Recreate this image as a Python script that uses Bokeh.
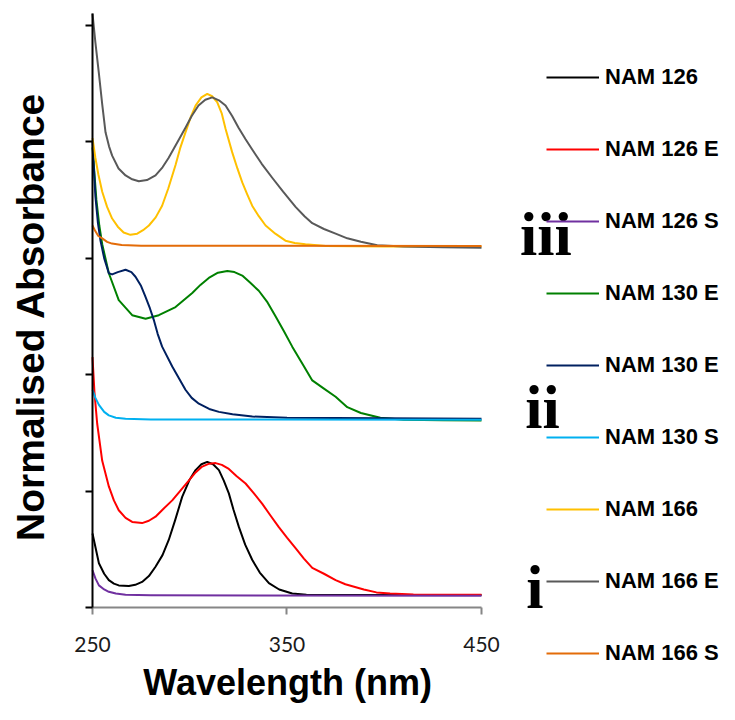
from bokeh.plotting import figure
from bokeh.models import FixedTicker, Legend, LegendItem, Label, Range1d
from bokeh.embed import file_html
from bokeh.resources import INLINE

# ---------------- data ----------------
x_ticks = [250, 350, 450]
y_ticks = [0, 1, 2, 3, 4, 5]

wl_nam126 = [250, 253.3, 256, 258.4, 261, 263.5, 268.7, 272, 275.5, 279, 282.4, 286, 289.2, 292.5,
             296.1, 300, 303, 306, 309, 312, 315, 317.5, 320.1, 322.5, 325.3, 328.5, 332.1, 336,
             340.7, 346, 352.7, 360, 380, 400, 450]
abs_nam126 = [0.635, 0.38, 0.29, 0.235, 0.205, 0.19, 0.185, 0.195, 0.22, 0.27, 0.35, 0.45, 0.58, 0.75,
              0.95, 1.10, 1.18, 1.23, 1.25, 1.23, 1.18, 1.09, 0.98, 0.84, 0.69, 0.54, 0.41, 0.30,
              0.21, 0.155, 0.12, 0.11, 0.107, 0.107, 0.107]

wl_nam126e = [250, 251, 252.4, 255, 258.4, 261, 263.5, 267, 270.4, 275.5, 279, 282.4, 286, 291, 295,
              299.5, 303, 306.4, 310, 313.3, 316.5, 320.1, 324, 328.7, 333, 337.3, 341.5, 345.8, 350,
              354.4, 358.7, 363, 369, 375, 380, 389.5, 396, 403, 415, 450]
abs_nam126e = [2.15, 1.85, 1.58, 1.26, 1.04, 0.92, 0.835, 0.77, 0.735, 0.725, 0.745, 0.78, 0.84, 0.92, 1.00,
               1.09, 1.16, 1.21, 1.235, 1.24, 1.225, 1.19, 1.13, 1.065, 0.98, 0.89, 0.79, 0.69, 0.60,
               0.51, 0.42, 0.34, 0.29, 0.235, 0.20, 0.155, 0.13, 0.12, 0.112, 0.11]

wl_nam126s = [250, 251.5, 253.3, 256, 258.4, 262, 267, 280, 450]
abs_nam126s = [0.32, 0.25, 0.19, 0.155, 0.135, 0.12, 0.11, 0.105, 0.102]

wl_nam130e_a = [250, 252, 253.5, 255, 258.4, 263.5, 270.4, 277.3, 284.1, 292.7, 301.3, 305.5, 309.8,
                314.5, 319.3, 323, 327, 331, 335.5, 340, 344.1, 348.5, 352.7, 358, 363, 369, 375, 381,
                388, 398, 410, 430, 450]
abs_nam130e_a = [3.95, 3.5, 3.28, 3.12, 2.87, 2.64, 2.51, 2.48, 2.51, 2.58, 2.70, 2.77, 2.83,
                 2.875, 2.89, 2.88, 2.85, 2.79, 2.72, 2.62, 2.50, 2.37, 2.24, 2.09, 1.95, 1.88, 1.81, 1.72,
                 1.67, 1.63, 1.612, 1.608, 1.605]

wl_nam130e_b = [250, 251.5, 252.8, 254.1, 256, 258.4, 260.1, 263, 267, 270, 272.1, 275, 277.2, 279.5,
                281.5, 283.5, 285.8, 291, 297.8, 301, 304.7, 310, 315, 322, 332.2, 350, 400, 450]
abs_nam130e_b = [4.0, 3.53, 3.3, 3.15, 3.0, 2.87, 2.86, 2.88, 2.90, 2.88, 2.84, 2.76, 2.67, 2.57,
                 2.47, 2.35, 2.24, 2.07, 1.87, 1.80, 1.75, 1.705, 1.68, 1.66, 1.64, 1.63, 1.625, 1.62]

wl_nam130s = [250, 251.5, 253.3, 256, 258.4, 262, 267, 280, 450]
abs_nam130s = [1.87, 1.80, 1.74, 1.68, 1.65, 1.63, 1.62, 1.615, 1.612]

wl_nam166 = [250, 251.5, 253, 255, 257.5, 260.1, 263, 266, 269.5, 273, 276, 279, 282.5, 285.8, 289,
             292.7, 295, 297.8, 300.5, 303, 306, 309, 311.5, 314.1, 316.5, 318.4, 321.8, 324.5, 327,
             329.5, 332.1, 335.5, 339, 344, 349.2, 354, 359.5, 370, 400, 450]
abs_nam166 = [4.03, 3.86, 3.72, 3.57, 3.44, 3.34, 3.27, 3.22, 3.20, 3.21, 3.24, 3.28, 3.35, 3.45, 3.60,
              3.80, 3.94, 4.08, 4.21, 4.31, 4.38, 4.41, 4.39, 4.34, 4.24, 4.11, 3.91, 3.77, 3.65,
              3.55, 3.45, 3.36, 3.28, 3.21, 3.15, 3.13, 3.12, 3.105, 3.10, 3.10]

wl_nam166e = [250, 251.5, 253.2, 255, 256.7, 258.5, 260.1, 263.4, 267, 270, 273.8, 278, 282.4, 286,
              289.1, 293.5, 297.8, 301, 304.5, 308, 311.6, 315, 318.4, 321.8, 325.1, 328.7, 332.2, 337,
              342.4, 348, 354.4, 359, 363, 369, 375, 381, 388, 396.4, 410, 430, 450]
abs_nam166e = [5.10, 4.85, 4.60, 4.32, 4.08, 3.96, 3.88, 3.77, 3.71, 3.68, 3.66, 3.67, 3.71, 3.78,
               3.86, 3.99, 4.12, 4.22, 4.31, 4.36, 4.38, 4.355, 4.31, 4.22, 4.12, 4.02, 3.93, 3.81,
               3.69, 3.57, 3.44, 3.36, 3.30, 3.25, 3.21, 3.17, 3.14, 3.11, 3.10, 3.093, 3.09]

wl_nam166s = [250, 251.5, 253, 255, 257.5, 260, 265, 275, 450]
abs_nam166s = [3.28, 3.23, 3.19, 3.17, 3.14, 3.125, 3.112, 3.107, 3.105]

series_names = ["NAM 126", "NAM 126 E", "NAM 126 S", "NAM 130 E", "NAM 130 E", "NAM 130 S",
                "NAM 166", "NAM 166 E", "NAM 166 S"]
series_colors = ["#000000", "#FF0000", "#7030A0", "#008000", "#002060", "#00B0F0",
                 "#FFC000", "#595959", "#E36C09"]
series_x = [wl_nam126, wl_nam126e, wl_nam126s, wl_nam130e_a, wl_nam130e_b, wl_nam130s,
            wl_nam166, wl_nam166e, wl_nam166s]
series_y = [abs_nam126, abs_nam126e, abs_nam126s, abs_nam130e_a, abs_nam130e_b, abs_nam130s,
            abs_nam166, abs_nam166e, abs_nam166s]

group_labels = ["iii", "ii", "i"]
group_label_x = [467.8, 470.4, 470.9]
group_label_y = [3.207, 1.721, 0.172]

x_title = "Wavelength (nm)"
y_title = "Normalised Absorbance"

# ---------------- figure ----------------
# The frame covers the whole canvas so that legend and labels are not clipped;
# both axes are pinned at the data origin and bounded to the data window.
p = figure(width=735, height=720, output_backend="svg", toolbar_location=None,
           x_range=Range1d(202.7, 580.6), y_range=Range1d(-0.970, 5.212),
           min_border_left=0, min_border_right=0, min_border_top=0, min_border_bottom=0,
           background_fill_color="white", border_fill_color="white")
p.outline_line_color = None
p.xgrid.visible = False
p.ygrid.visible = False

# x axis
p.xaxis.fixed_location = 0
p.xaxis.bounds = (250, 450)
p.xaxis.ticker = FixedTicker(ticks=x_ticks)
p.xaxis.minor_tick_line_color = None
p.xaxis.axis_line_color = "#868686"
p.xaxis.axis_line_width = 2
p.xaxis.major_tick_line_color = "#868686"
p.xaxis.major_tick_line_width = 2
p.xaxis.major_tick_out = 7
p.xaxis.major_tick_in = 0
p.xaxis.major_label_text_font = "Lato"
p.xaxis.major_label_text_font_size = "21px"
p.xaxis.major_label_text_color = "#1a1a1a"
p.xaxis.major_label_standoff = 22

# y axis
p.yaxis.fixed_location = 250
p.yaxis.bounds = (0, 5.10)
p.yaxis.ticker = FixedTicker(ticks=y_ticks)
p.yaxis.minor_tick_line_color = None
p.yaxis.axis_line_color = "#000000"
p.yaxis.axis_line_width = 2
p.yaxis.major_tick_line_color = "#000000"
p.yaxis.major_tick_line_width = 2
p.yaxis.major_tick_out = 7
p.yaxis.major_tick_in = 0
p.yaxis.major_label_overrides = {t: "" for t in y_ticks}
p.yaxis.major_label_standoff = 0

# axis titles
p.add_layout(Label(x=350.3, y=-0.644, text=x_title, text_font="Liberation Sans",
                   text_font_style="bold", text_font_size="36px", text_color="#000000",
                   text_align="center", text_baseline="middle"))
p.add_layout(Label(x=217.9, y=2.498, text=y_title, text_font="Liberation Sans",
                   text_font_style="bold", text_font_size="39px", text_color="#000000",
                   text_align="center", text_baseline="middle", angle=90, angle_units="deg"))

# lines
renderers = []
for xs, ys, c in zip(series_x, series_y, series_colors):
    r = p.line(xs, ys, line_color=c, line_width=2, line_join="round")
    renderers.append(r)

items = [LegendItem(label=n, renderers=[r]) for n, r in zip(series_names, renderers)]
legend = Legend(items=items, location=(546, 52), padding=0, margin=0, spacing=42,
                glyph_width=53, glyph_height=30, label_height=30, label_standoff=6,
                label_text_font="Liberation Sans", label_text_font_style="bold",
                label_text_font_size="22px", label_text_color="#000000",
                border_line_color=None, background_fill_alpha=0)
p.add_layout(legend)

for t, gx, gy in zip(group_labels, group_label_x, group_label_y):
    p.add_layout(Label(x=gx, y=gy, text=t, text_font="Liberation Serif", text_font_style="bold",
                       text_font_size="62px", text_color="#000000", text_baseline="middle",
                       text_align="left", background_fill_color="white", padding=4))

open("out.html", "w").write(file_html(p, INLINE))
